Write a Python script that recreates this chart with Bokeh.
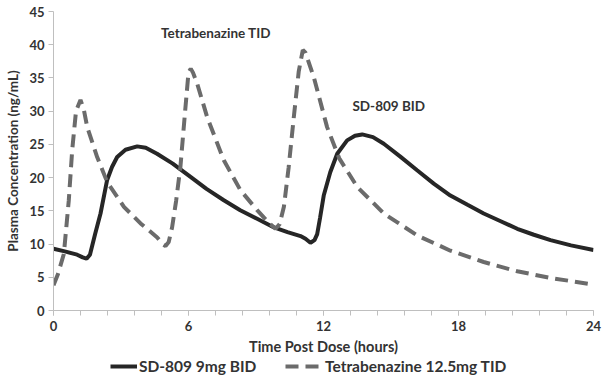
from bokeh.plotting import figure
from bokeh.layouts import column
from bokeh.models import Range1d, FixedTicker, Legend, LegendItem, Label
from bokeh.embed import file_html
from bokeh.resources import INLINE

# SD-809 9mg BID (solid)
sd_hours = [0, 0.5, 1.05, 1.3, 1.47, 1.62, 1.85, 2.09, 2.38, 2.6, 2.83, 3.2, 3.72, 4.1, 4.6,
            5.3, 6.09, 6.8, 7.57, 8.3, 9.05, 9.8, 10.4, 10.98, 11.2, 11.42, 11.6, 11.72, 11.85,
            12.01, 12.3, 12.61, 13.05, 13.4, 13.72, 14.2, 14.68, 15.4, 16.16, 16.9, 17.64,
            18.4, 19.12, 19.9, 20.61, 21.35, 22.09, 23.0, 24]
sd_conc = [9.3, 8.9, 8.4, 8.0, 7.8, 8.4, 11.5, 14.6, 19.6, 21.6, 23.1, 24.2, 24.7, 24.5, 23.6,
           22.1, 20.1, 18.3, 16.6, 15.1, 13.8, 12.5, 11.8, 11.2, 10.8, 10.2, 10.6, 11.5, 14.0,
           17.3, 20.8, 23.6, 25.6, 26.3, 26.5, 26.1, 25.1, 23.2, 21.1, 19.1, 17.3,
           15.9, 14.6, 13.4, 12.3, 11.4, 10.6, 9.8, 9.1]

# Tetrabenazine 12.5mg TID (dashed)
tbz_hours = [0, 0.2, 0.46, 0.68, 0.83, 1.0, 1.2, 1.35, 1.5, 1.94, 2.39, 3.13, 3.87, 4.61, 4.85,
             4.98, 5.12, 5.27, 5.45, 5.64, 5.85, 6.0, 6.1, 6.2, 6.39, 6.83, 7.57, 8.31, 9.05,
             9.6, 9.87, 10.05, 10.24, 10.45, 10.68, 10.9, 11.08, 11.2, 11.57, 12.16, 12.7,
             13.5, 14.68, 16.16, 17.64, 19.12, 20.61, 22.09, 24]
tbz_conc = [3.8, 5.5, 8.5, 16.6, 24.1, 30.0, 31.7, 30.2, 27.6, 23.1, 19.3, 15.6, 13.1, 11.0, 10.0,
            9.7, 10.3, 12.5, 16.5, 21.6, 30.0, 35.8, 36.4, 35.8, 34.1, 29.1, 22.6, 18.1, 15.1,
            13.1, 12.3, 13.0, 15.6, 21.5, 29.1, 36.0, 39.2, 38.8, 35.1, 27.6, 22.9,
            18.6, 14.6, 11.3, 9.0, 7.3, 5.9, 4.9, 3.9]

x_ticks = [0, 6, 12, 18, 24]
x_minor = [0, 1.2, 2.4, 3.6, 4.8, 6, 7.2, 8.4, 9.6, 10.8, 12, 13.2, 14.4, 15.6, 16.8, 18,
           19.2, 20.4, 21.6, 22.8, 24]
y_ticks = [0, 5, 10, 15, 20, 25, 30, 35, 40, 45]

series_names = ["SD-809 9mg BID", "Tetrabenazine 12.5mg TID"]
annotations = [("Tetrabenazine TID", 7.22, 41.8), ("SD-809 BID", 14.9, 30.8)]

FONT = "Lato"
AXIS_GRAY = "#bfbfbf"
TEXT = "#333333"
SOLID = dict(line_color="#262626", line_width=4)
DASHED = dict(line_color="#6b6b6b", line_width=4, line_dash="13 7")

p = figure(width=605, height=358, output_backend="svg", toolbar_location=None,
           x_range=Range1d(0, 24), y_range=Range1d(0, 45),
           min_border_top=11, min_border_right=12, min_border_left=53, min_border_bottom=48)
p.outline_line_color = None
p.xgrid.visible = False
p.ygrid.visible = False

p.line(sd_hours, sd_conc, **SOLID)
p.line(tbz_hours, tbz_conc, **DASHED)

p.xaxis.ticker = FixedTicker(ticks=x_ticks, minor_ticks=x_minor)
p.yaxis.ticker = FixedTicker(ticks=y_ticks)
for ax in (p.xaxis, p.yaxis):
    ax.axis_line_color = AXIS_GRAY
    ax.major_tick_line_color = AXIS_GRAY
    ax.minor_tick_line_color = AXIS_GRAY
    ax.major_tick_in = 0
    ax.major_tick_out = 5
    ax.minor_tick_in = 0
    ax.minor_tick_out = 5
    ax.major_label_text_font = FONT
    ax.major_label_text_font_style = "bold"
    ax.major_label_text_font_size = "13px"
    ax.major_label_text_color = TEXT
    ax.axis_label_text_font = FONT
    ax.axis_label_text_font_style = "bold"
    ax.axis_label_text_color = TEXT
p.yaxis.minor_tick_line_color = None
p.xaxis.axis_label = "Time Post Dose (hours)"
p.yaxis.axis_label = "Plasma Concentration (ng/mL)"
p.xaxis.axis_label_text_font_size = "14.5px"
p.yaxis.axis_label_text_font_size = "13.5px"
p.xaxis.major_label_standoff = 5
p.xaxis.axis_label_standoff = 4
p.yaxis.major_label_standoff = 4
p.yaxis.axis_label_standoff = 5

for txt, x, y in annotations:
    p.add_layout(Label(x=x, y=y, text=txt, text_font=FONT, text_font_style="bold",
                       text_font_size="13.5px", text_color=TEXT,
                       text_align="center", text_baseline="middle"))

# legend strip below the chart (its frame is aligned with the chart's frame)
lg = figure(width=605, height=22, output_backend="svg", toolbar_location=None,
            x_range=Range1d(-10, -9), y_range=Range1d(0, 1),
            min_border=0, min_border_left=0, min_border_right=0,
            min_border_top=0, min_border_bottom=0)
lg.axis.visible = False
lg.grid.visible = False
lg.outline_line_color = None
r1 = lg.line(sd_hours, sd_conc, **SOLID)
r2 = lg.line(tbz_hours, tbz_conc, **DASHED)

common = dict(orientation="horizontal", label_text_font=FONT, label_text_font_style="bold",
              label_text_font_size="15.5px", label_text_color=TEXT, padding=0, margin=0,
              border_line_color=None, background_fill_alpha=0, label_standoff=2)
leg1 = Legend(items=[LegendItem(label=series_names[0], renderers=[r1])],
              location=(57, 4), glyph_width=27, **common)
leg2 = Legend(items=[LegendItem(label=series_names[1], renderers=[r2])],
              location=(232, 4), glyph_width=38, **common)
lg.add_layout(leg1, "center")
lg.add_layout(leg2, "center")

layout = column(p, lg, spacing=0)
open("out.html", "w").write(file_html(layout, INLINE))
